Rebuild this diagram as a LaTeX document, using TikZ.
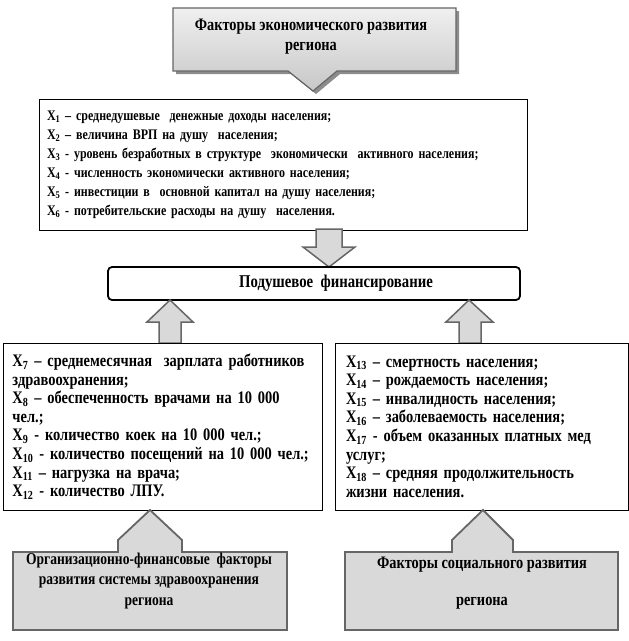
\documentclass[tikz,border=0pt]{standalone}
\usepackage{fontspec}
\setmainfont[FakeStretch=0.82]{Liberation Serif}
\begin{document}
\begin{tikzpicture}[x=1pt,y=-1pt,
  listbox/.style={draw=black,line width=0.9pt,inner sep=0pt,align=left},
  callout/.style={draw=black!60,line width=1.8pt,fill=black!15,line join=miter},
  blockarrow/.style={draw=black!60,line width=1.5pt,fill=black!15,line join=miter},
  calltext/.style={align=center,inner sep=0pt},
]
\useasboundingbox (0,0) rectangle (629,641);

% top callout
\fill[black!45] (176,11) -- (459,11) -- (459,74) -- (340,74) -- (316,94) -- (291,74) -- (176,74) -- cycle;
\shade[top color=black!6,bottom color=black!22] (173,8) -- (456,8) -- (456,71) -- (337,71) -- (313,91) -- (288,71) -- (173,71) -- cycle;
\draw[draw=black!60,line width=1.2pt] (173,8) -- (456,8) -- (456,71) -- (337,71) -- (313,91) -- (288,71) -- (173,71) -- cycle;
\node[calltext,font=\fontsize{17.5}{20}\selectfont\bfseries] (econf) at (311,37) {Факторы экономического развития\\региона};

% X1 box
\node[listbox,minimum width=488pt,minimum height=131pt,text width=472pt,font=\fontsize{14.6}{19}\selectfont\bfseries] (econ) at (283,164.5) {%
\mbox{X\textsubscript{1} – среднедушевые \ денежные доходы населения;}\\
\mbox{X\textsubscript{2} – величина ВРП на душу \ населения;}\\
\mbox{X\textsubscript{3} - уровень безработных в структуре \ экономически \ активного населения;}\\
\mbox{X\textsubscript{4} - численность экономически активного населения;}\\
\mbox{X\textsubscript{5} - инвестиции в \ основной капитал на душу населения;}\\
\mbox{X\textsubscript{6} - потребительские расходы на душу \ населения.}\\[4pt]};

% down block arrow
\draw[blockarrow] (316,229) -- (342,229) -- (342,247) -- (355,247) -- (329,267) -- (303,247) -- (316,247) -- cycle;

% financing box
\node[draw=black,line width=1.8pt,rounded corners=4pt,minimum width=412pt,minimum height=33pt,inner sep=0pt] (fin) at (314,283.5) {};
\node[inner sep=0pt,font=\fontsize{18}{20}\selectfont\bfseries] (fintext) at (336,283.5) {Подушевое \ финансирование};

% up block arrows
\draw[blockarrow] (170,300) -- (193,322) -- (181,322) -- (181,343) -- (159,343) -- (159,322) -- (147,322) -- cycle;
\draw[blockarrow] (469,300) -- (493,322) -- (481,322) -- (481,343) -- (459,343) -- (459,322) -- (446,322) -- cycle;

% left box
\node[listbox,minimum width=319pt,minimum height=167pt,text width=300pt,font=\fontsize{17.6}{18.6}\selectfont\bfseries] (org) at (162.5,426.5) {%
\makebox[\linewidth][s]{X\textsubscript{7} – среднемесячная \ зарплата работников}\\
\mbox{здравоохранения;}\\
\makebox[\linewidth][s]{X\textsubscript{8} – обеспеченность врачами на 10 000}\\
\mbox{чел.;}\\
\mbox{X\textsubscript{9} - количество коек на 10 000 чел.;}\\
\mbox{X\textsubscript{10} - количество посещений на 10 000 чел.;}\\
\mbox{X\textsubscript{11} – нагрузка на врача;}\\
\mbox{X\textsubscript{12} - количество ЛПУ.}};

% right box
\node[listbox,minimum width=293pt,minimum height=167pt,text width=271pt,font=\fontsize{17.6}{18.6}\selectfont\bfseries] (soc) at (481.5,426.5) {%
\mbox{X\textsubscript{13} – смертность населения;}\\
\mbox{X\textsubscript{14} – рождаемость населения;}\\
\mbox{X\textsubscript{15} – инвалидность населения;}\\
\mbox{X\textsubscript{16} – заболеваемость населения;}\\
\makebox[\linewidth][s]{X\textsubscript{17} - объем оказанных платных мед}\\
\mbox{услуг;}\\
\makebox[\linewidth][s]{X\textsubscript{18} – средняя продолжительность}\\
\mbox{жизни населения.}};

% bottom left callout
\draw[callout] (13,552) -- (118,552) -- (118,540) -- (150,510) -- (182,540) -- (182,552) -- (287,552) -- (287,630) -- (13,630) -- cycle;
\node[calltext,font=\fontsize{16.5}{20.5}\selectfont\bfseries] (orgf) at (149,581) {Организационно-финансовые \ факторы\\развития системы здравоохранения\\региона};

% bottom right callout
\draw[callout] (345,552) -- (452,552) -- (452,540) -- (483,510) -- (513,540) -- (513,552) -- (618,552) -- (618,630) -- (345,630) -- cycle;
\node[calltext,font=\fontsize{17.5}{18.5}\selectfont\bfseries] (socf) at (482,583) {Факторы социального развития\\[18.5pt]региона};
\end{tikzpicture}
\end{document}
